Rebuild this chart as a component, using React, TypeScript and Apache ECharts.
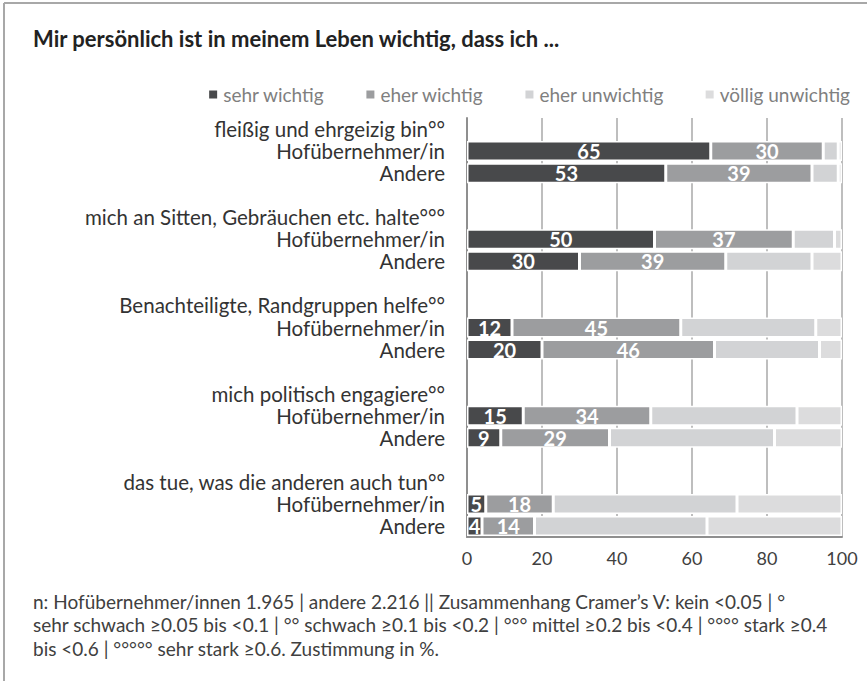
import React, { useEffect, useRef } from "react";
import * as echarts from "echarts";

const titleText = "Mir persönlich ist in meinem Leben wichtig, dass ich ...";
const seriesNames = ["sehr wichtig", "eher wichtig", "eher unwichtig", "völlig unwichtig"];
const seriesColors = ["#48494b", "#9c9d9f", "#d2d3d5", "#dcdcdd"];
const groupNames = [
  "fleißig und ehrgeizig bin°°",
  "mich an Sitten, Gebräuchen etc. halte°°°",
  "Benachteiligte, Randgruppen helfe°°",
  "mich politisch engagiere°°",
  "das tue, was die anderen auch tun°°",
];
const subGroups = ["Hofübernehmer/in", "Andere"];
// values per group: [Hof, Andere]
const sehrWichtig = [[65, 53], [50, 30], [12, 20], [15, 9], [5, 4]];
const eherWichtig = [[30, 39], [37, 39], [45, 46], [34, 29], [18, 14]];
const eherUnwichtig = [[4, 7], [11, 23], [36, 28], [39, 44], [49, 46]];
const voelligUnwichtig = [[1, 1], [2, 8], [7, 6], [12, 18], [28, 36]];
const xTicks = [0, 20, 40, 60, 80, 100];
const footerLines = [
  "n: Hofübernehmer/innen 1.965 | andere 2.216 || Zusammenhang Cramer’s V: kein <0.05 | °",
  "sehr schwach ≥0.05 bis <0.1 | °° schwach ≥0.1 bis <0.2 | °°° mittel ≥0.2 bis <0.4 | °°°° stark ≥0.4",
  "bis <0.6 | °°°°° sehr stark ≥0.6. Zustimmung in %.",
];

const FONT = "Lato, 'Open Sans', sans-serif";

export default function App() {
  const ref = useRef<HTMLDivElement>(null);
  useEffect(() => {
    if (!ref.current) return;
    const chart = echarts.init(ref.current, undefined, { renderer: "svg" });

    const rowLabels: string[] = [];
    groupNames.forEach((g, i) => {
      rowLabels.push(g);
      subGroups.forEach((s) => rowLabels.push(s));
      if (i < groupNames.length - 1) rowLabels.push("");
    });
    const buildRows = (vals: number[][]) => {
      const out: (number | string)[] = [];
      vals.forEach((pair, i) => {
        out.push("-");
        pair.forEach((v) => out.push(v));
        if (i < vals.length - 1) out.push("-");
      });
      return out;
    };
    const allVals = [sehrWichtig, eherWichtig, eherUnwichtig, voelligUnwichtig];
    const categories = rowLabels.map((_, i) => String(i));

    const series = allVals.map((vals, k) => ({
      name: seriesNames[k],
      type: "bar",
      stack: "total",
      barWidth: 20,
      data: buildRows(vals),
      itemStyle: { color: seriesColors[k], borderColor: "#ffffff", borderWidth: 1.5 },
      label: {
        show: k < 2,
        position: "inside",
        color: "#ffffff",
        fontFamily: FONT,
        fontWeight: "bold",
        fontSize: 20,
      },
      emphasis: { disabled: true },
    }));

    chart.setOption({
      animation: false,
      textStyle: { fontFamily: FONT },
      legend: {
        right: 12,
        top: 80,
        itemWidth: 10,
        itemHeight: 10,
        itemGap: 40,
        icon: "rect",
        data: seriesNames,
        textStyle: { color: "#7f7f7f", fontSize: 19, fontFamily: FONT },
      },
      grid: { left: 467, right: 25, top: 118, bottom: 144 },
      xAxis: {
        type: "value",
        min: xTicks[0],
        max: xTicks[xTicks.length - 1],
        interval: xTicks[1] - xTicks[0],
        axisLine: { show: true, lineStyle: { color: "#8f8f8f", width: 2 } },
        axisTick: { show: false },
        splitLine: { show: true, lineStyle: { color: "#a8a8a8", width: 1.5 } },
        axisLabel: { color: "#404040", fontSize: 18, fontFamily: FONT, margin: 12 },
      },
      yAxis: {
        type: "category",
        inverse: true,
        data: categories,
        axisLine: { show: true, lineStyle: { color: "#8f8f8f", width: 2 } },
        axisTick: { show: false },
        axisLabel: {
          interval: 0,
          color: "#333333",
          fontSize: 20.5,
          fontFamily: FONT,
          margin: 22,
          formatter: (v: string) => rowLabels[Number(v)],
        },
      },
      graphic: [
        { type: "line", shape: { x1: 4, y1: 3, x2: 867, y2: 3 }, style: { stroke: "#a8a8a8", lineWidth: 2 } },
        { type: "line", shape: { x1: 4, y1: 3, x2: 4, y2: 681 }, style: { stroke: "#a8a8a8", lineWidth: 2 } },
        {
          type: "text",
          x: 33,
          y: 38,
          style: {
            text: titleText,
            fill: "#222222",
            fontSize: 22,
            fontWeight: "bold",
            fontFamily: FONT,
            verticalAlign: "middle",
          },
        },
        ...footerLines.map((t, i) => ({
          type: "text",
          x: 33,
          y: 601 + i * 23.5,
          style: {
            text: t,
            fill: "#404040",
            fontSize: 19,
            fontFamily: FONT,
            verticalAlign: "middle",
          },
        })),
      ],
      series,
    });
    return () => chart.dispose();
  }, []);
  return (
    <div
      ref={ref}
      style={{ position: "fixed", left: 0, top: 0, width: 867, height: 681, background: "#ffffff" }}
    />
  );
}
